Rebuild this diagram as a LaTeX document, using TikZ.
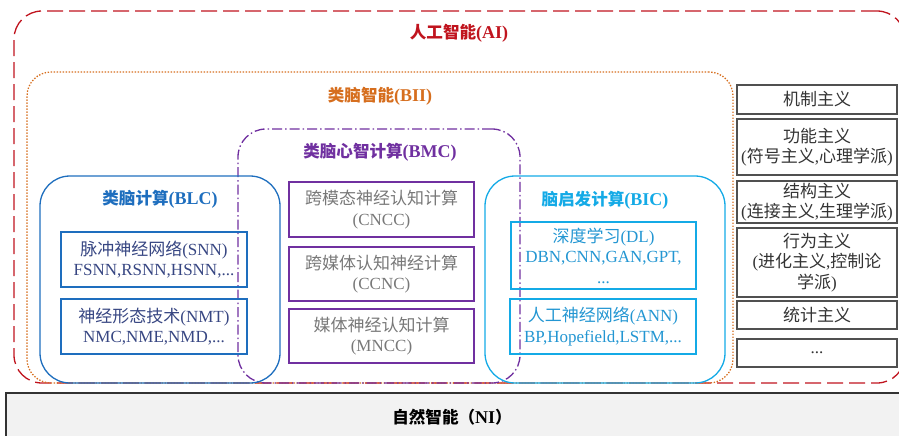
\documentclass[tikz,border=0pt]{standalone}
\usepackage{fontspec}
\setmainfont{Liberation Serif}
\newfontfamily\cjk{Noto Sans CJK SC}[Scale=1.0]
\newfontfamily\cjkt{Noto Sans CJK SC}[Scale=0.92]
\newcommand{\zh}[1]{{\cjk #1}}
\newcommand{\zht}[1]{{\cjkt #1}}
\definecolor{aired}{RGB}{192,20,30}
\definecolor{biiorange}{RGB}{214,110,30}
\definecolor{bmcpurple}{RGB}{112,48,160}
\definecolor{blcblue}{RGB}{30,110,190}
\definecolor{bicblue}{RGB}{20,170,230}
\definecolor{snntext}{RGB}{55,70,130}
\definecolor{graytext}{RGB}{120,120,120}
\definecolor{bictext}{RGB}{35,150,210}
\definecolor{colgray}{RGB}{80,80,80}
\definecolor{nifill}{RGB}{242,242,242}
\tikzset{
  region/.style={draw, line width=1.3pt, inner sep=0pt},
  titletext/.style={font=\fontsize{18}{22}\selectfont\bfseries, inner sep=0pt},
  boxtext/.style={font=\fontsize{17}{20.5}\selectfont, align=center, inner sep=0pt},
  sbox/.style={boxtext, draw=blcblue, line width=1.2pt, text=snntext},
  pbox/.style={boxtext, draw=bmcpurple, line width=1.2pt, text=graytext},
  cbox/.style={boxtext, draw=bicblue, line width=1.2pt, text=bictext},
  gbox/.style={boxtext, draw=colgray, line width=1.5pt, text=black!80, minimum width=160pt},
}
\begin{document}
\begin{tikzpicture}[x=1pt,y=-1pt]
\useasboundingbox (0,0) rectangle (899,436);
\clip (0,0) rectangle (899,436);
% natural intelligence
\node[draw=black!80, fill=nifill, line width=1.5pt, minimum width=904pt, minimum height=60pt, inner sep=0pt] (ni) at (458,423) {};
\node[titletext, text=black] (nit) at (452,417) {\zht{自然智能（}NI\zht{）}};
% AI
\node[region, draw=aired, rounded corners=28pt, dash pattern=on 16pt off 6pt, minimum width=891pt, minimum height=372pt] (ai) at (459.5,197) {};
\node[titletext, text=aired] (ait) at (459,33) {\zht{人工智能}(AI)};
% BII
\node[region, draw=biiorange, line width=1.3pt, rounded corners=24pt, dash pattern=on 1.4pt off 1.6pt, minimum width=706pt, minimum height=311pt] (bii) at (380,227.5) {};
\node[titletext, text=biiorange] (biit) at (380,96) {\zht{类脑智能}(BII)};
% BMC
\node[region, draw=bmcpurple, rounded corners=28pt, dash pattern=on 10pt off 3pt on 1.5pt off 3pt, minimum width=282pt, minimum height=254pt] (bmc) at (379,256) {};
\node[titletext, text=bmcpurple] (bmct) at (380,152) {\zht{类脑心智计算}(BMC)};
% BLC
\node[region, draw=blcblue, rounded corners=30pt, minimum width=240pt, minimum height=207pt] (blc) at (160,279.5) {};
\node[titletext, text=blcblue] (blct) at (160,199) {\zht{类脑计算}(BLC)};
% BIC
\node[region, draw=bicblue, rounded corners=30pt, minimum width=240pt, minimum height=207pt] (bic) at (605,279.5) {};
\node[titletext, text=bicblue] (bict) at (605,200) {\zht{脑启发计算}(BIC)};
% BLC boxes
\node[sbox, minimum width=186pt, minimum height=55pt] (snn) at (154,259.5) {\zh{脉冲神经网络}(SNN)\\FSNN,RSNN,HSNN,...};
\node[sbox, minimum width=186pt, minimum height=55pt] (nmt) at (154,326.5) {\zh{神经形态技术}(NMT)\\NMC,NME,NMD,...};
% BMC boxes
\node[pbox, minimum width=185pt, minimum height=55pt] (cncc) at (381.5,209.5) {\zh{跨模态神经认知计算}\\(CNCC)};
\node[pbox, minimum width=185pt, minimum height=54pt] (ccnc) at (381.5,274) {\zh{跨媒体认知神经计算}\\(CCNC)};
\node[pbox, minimum width=185pt, minimum height=54pt] (mncc) at (381.5,336) {\zh{媒体神经认知计算}\\(MNCC)};
% BIC boxes
\node[cbox, minimum width=185pt, minimum height=67pt] (dl) at (603.5,255.5) {\zh{深度学习}(DL)\\DBN,CNN,GAN,GPT,\\...};
\node[cbox, minimum width=186pt, minimum height=55pt] (ann) at (603,326.5) {\zh{人工神经网络}(ANN)\\BP,Hopefield,LSTM,...};
% right column
\node[gbox, minimum height=29pt] (c1) at (817,99.5) {\zh{机制主义}};
\node[gbox, minimum height=56pt] (c2) at (817,147) {\zh{功能主义}\\(\zh{符号主义},\zh{心理学派})};
\node[gbox, minimum height=42pt] (c3) at (817,202) {\zh{结构主义}\\(\zh{连接主义},\zh{生理学派})};
\node[gbox, minimum height=69pt] (c4) at (817,262.5) {\zh{行为主义}\\(\zh{进化主义},\zh{控制论}\\\zh{学派})};
\node[gbox, minimum height=28pt] (c5) at (817,315) {\zh{统计主义}};
\node[gbox, minimum height=28pt] (c6) at (817,353) {...};
\end{tikzpicture}
\end{document}
